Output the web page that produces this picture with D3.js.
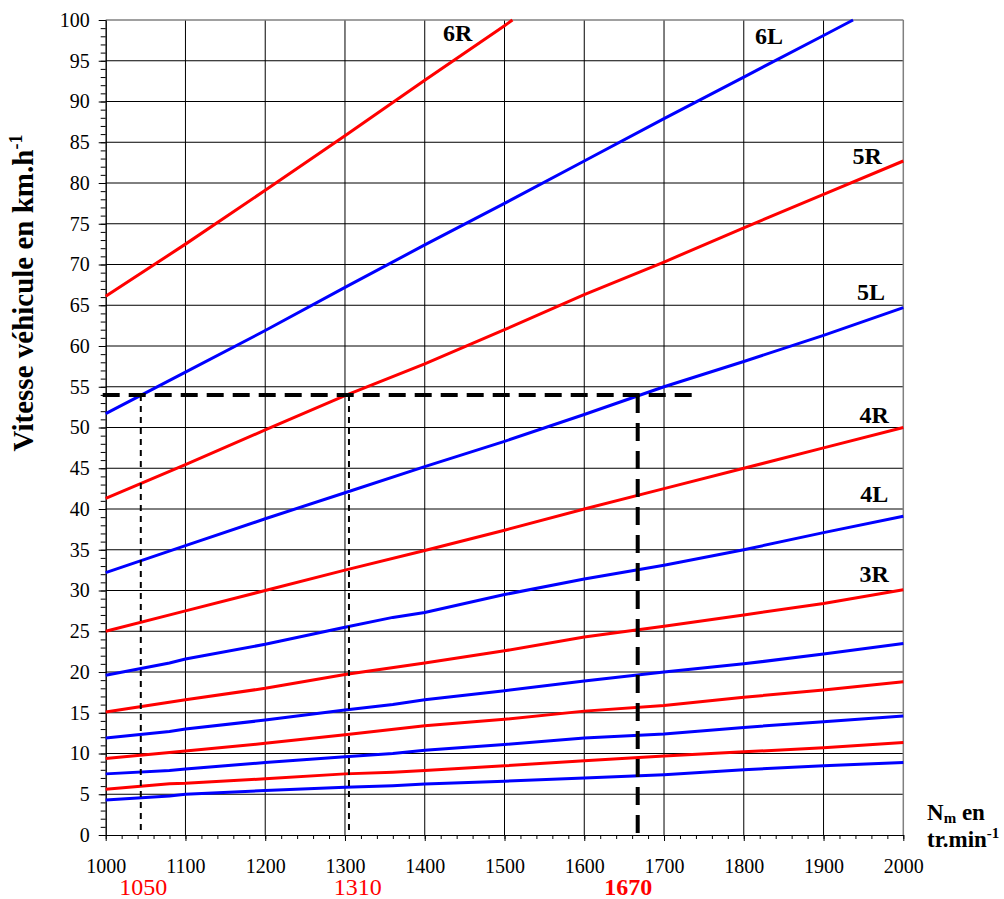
<html>
<head>
<meta charset="utf-8">
<script src="https://d3js.org/d3.v7.min.js"></script>
<style>
body { margin: 0; background: #fff; }
text { font-family: "Liberation Serif", "Times New Roman", serif; }
.curve { fill: none; stroke-width: 3; }
.grid line { stroke: #000; stroke-width: 1; }
</style>
</head>
<body>
<svg width="1004" height="899"></svg>
<script>
// engine speed (tr/min) at which each curve was read
const rpmFull = [1000, 1080, 1100, 1200, 1300, 1360, 1400, 1500, 1600, 1700, 1800, 1900, 2000];
const rpmStd  = [1000, 1100, 1200, 1300, 1400, 1500, 1600, 1700, 1800, 1900, 2000];

// vehicle speed (km/h) for each gear, L = low range (blue), R = high range (red)
const v1L = [4.3, 4.8, 5.0, 5.45, 5.85, 6.05, 6.25, 6.6, 7.0, 7.4, 8.0, 8.5, 8.9];
const v1R = [5.6, 6.3, 6.35, 6.9, 7.5, 7.7, 7.9, 8.5, 9.1, 9.7, 10.2, 10.7, 11.35];
const v2L = [7.5, 7.9, 8.1, 8.9, 9.6, 10.0, 10.4, 11.1, 11.9, 12.4, 13.2, 13.9, 14.6];
const v2R = [9.4, 10.3, 11.25, 12.3, 13.4, 14.2, 15.2, 15.9, 16.9, 17.8, 18.8];
const v3L = [11.9, 12.7, 13.0, 14.1, 15.35, 16.0, 16.6, 17.7, 18.9, 20.0, 21.0, 22.2, 23.5];
const v3R = [15.1, 16.6, 18.0, 19.7, 21.1, 22.6, 24.3, 25.6, 27.0, 28.4, 30.1];
const v4L = [19.6, 21.1, 21.6, 23.4, 25.5, 26.7, 27.3, 29.5, 31.4, 33.1, 35.0, 37.1, 39.1];
const v4R = [25.0, 27.5, 30.0, 32.5, 34.9, 37.4, 40.0, 42.5, 45.0, 47.5, 50.0];
const v5L = [32.2, 35.5, 38.8, 42.0, 45.2, 48.3, 51.6, 55.0, 58.1, 61.3, 64.7];
const v5R = [41.3, 45.45, 49.7, 53.9, 57.8, 62.0, 66.3, 70.3, 74.5, 78.6, 82.7];
const rpm6L = [1000, 1100, 1200, 1300, 1400, 1500, 1600, 1700, 1800, 1900, 1937];
const v6L = [51.7, 56.8, 61.9, 67.2, 72.4, 77.5, 82.7, 87.9, 93.0, 98.1, 100];
const rpm6R = [1000, 1100, 1200, 1300, 1400, 1500, 1510];
const v6R = [66.1, 72.5, 79.1, 85.8, 92.6, 99.3, 100];

// reading example: 54 km/h reached in 6L, 5R and 5L
const refSpeed = 54;
const refRpm = [1044, 1305, 1667];
const refText = ["1050", "1310", "1670"];
const refEnd = 1740;

const xTicks = d3.range(1000, 2001, 100);
const yTicks = d3.range(0, 101, 5);

const series = [
  {name: "1L", rpm: rpmFull, v: v1L, color: "#0000ff"},
  {name: "1R", rpm: rpmFull, v: v1R, color: "#ff0000"},
  {name: "2L", rpm: rpmFull, v: v2L, color: "#0000ff"},
  {name: "2R", rpm: rpmStd,  v: v2R, color: "#ff0000"},
  {name: "3L", rpm: rpmFull, v: v3L, color: "#0000ff"},
  {name: "3R", rpm: rpmStd,  v: v3R, color: "#ff0000"},
  {name: "4L", rpm: rpmFull, v: v4L, color: "#0000ff"},
  {name: "4R", rpm: rpmStd,  v: v4R, color: "#ff0000"},
  {name: "5L", rpm: rpmStd,  v: v5L, color: "#0000ff"},
  {name: "5R", rpm: rpmStd,  v: v5R, color: "#ff0000"},
  {name: "6L", rpm: rpm6L,   v: v6L, color: "#0000ff"},
  {name: "6R", rpm: rpm6R,   v: v6R, color: "#ff0000"}
];

// where the gear names sit (data units) and anchor
const labelPos = {
  "6R": [1423, 97.4, "start"], "6L": [1814, 97.0, "start"],
  "5R": [1973, 82.3, "end"], "5L": [1977, 65.6, "end"],
  "4R": [1982, 50.6, "end"], "4L": [1981, 40.8, "end"],
  "3R": [1982, 31.0, "end"]
};
const refLabelX = [1047, 1316, 1655];

const svg = d3.select("svg");
const x = d3.scaleLinear().domain([1000, 2000]).range([105.7, 903.3]);
const y = d3.scaleLinear().domain([0, 100]).range([835, 20]);

// grid
const grid = svg.append("g").attr("class", "grid");
grid.selectAll(".h").data(yTicks.filter(d => d > 0 && d < 100)).enter().append("line")
  .attr("x1", x(1000)).attr("x2", x(2000))
  .attr("y1", d => y(d)).attr("y2", d => y(d));
grid.selectAll(".v").data(xTicks.filter(d => d > 1000 && d < 2000)).enter().append("line")
  .attr("x1", d => x(d)).attr("x2", d => x(d))
  .attr("y1", y(0)).attr("y2", y(100));
// frame top & right
svg.append("line").attr("x1", x(1000)).attr("x2", x(2000)).attr("y1", y(100)).attr("y2", y(100))
  .attr("stroke", "#808080").attr("stroke-width", 1.5);
svg.append("line").attr("x1", x(2000)).attr("x2", x(2000)).attr("y1", y(0)).attr("y2", y(100))
  .attr("stroke", "#808080").attr("stroke-width", 1.5);

// axes
const minorY = d3.axisLeft(y).tickValues(d3.range(0, 101, 1)).tickSize(5).tickFormat("").tickSizeOuter(0);
svg.append("g").attr("transform", "translate(" + x(1000) + ",0)").call(minorY);
const yAxis = d3.axisLeft(y).tickValues(yTicks).tickSize(7).tickPadding(9).tickSizeOuter(0)
  .tickFormat(d3.format("d"));
svg.append("g").attr("transform", "translate(" + x(1000) + ",0)").call(yAxis);

const minorX = d3.axisBottom(x).tickValues(d3.range(1000, 2001, 20)).tickSize(4).tickFormat("").tickSizeOuter(0);
svg.append("g").attr("transform", "translate(0," + y(0) + ")").call(minorX);
const xAxis = d3.axisBottom(x).tickValues(xTicks).tickSize(6).tickPadding(18).tickSizeOuter(0)
  .tickFormat(d3.format("d"));
svg.append("g").attr("transform", "translate(0," + y(0) + ")").call(xAxis);

svg.selectAll(".tick text").attr("fill", "#000")
  .style("font-family", "'Liberation Serif', serif").style("font-size", "20px");
svg.selectAll(".domain, .tick line").attr("stroke", "#000");

// curves
const line = d3.line().x(d => x(d[0])).y(d => y(d[1]));
svg.selectAll(".curve").data(series).enter().append("path")
  .attr("class", "curve")
  .attr("stroke", d => d.color)
  .attr("d", d => line(d.rpm.map((r, i) => [r, d.v[i]])));

// gear labels
Object.keys(labelPos).forEach(k => {
  const p = labelPos[k];
  svg.append("text").attr("x", x(p[0])).attr("y", y(p[1]))
    .attr("text-anchor", p[2]).attr("font-size", 24).attr("font-weight", "bold").text(k);
});

// reading lines
svg.append("line").attr("x1", x(1000) - 3).attr("x2", x(refEnd))
  .attr("y1", y(refSpeed)).attr("y2", y(refSpeed))
  .attr("stroke", "#000").attr("stroke-width", 4).attr("stroke-dasharray", "17,9");
refRpm.forEach((r, i) => {
  const thick = i === 2;
  svg.append("line").attr("x1", x(r)).attr("x2", x(r))
    .attr("y1", y(refSpeed)).attr("y2", y(0))
    .attr("stroke", "#000")
    .attr("stroke-width", thick ? 4 : 2)
    .attr("stroke-dasharray", thick ? "18,10" : "6,5");
  svg.append("text").attr("x", x(refLabelX[i])).attr("y", 895)
    .attr("text-anchor", "middle").attr("font-size", 24).attr("fill", "#ff0000")
    .attr("font-weight", thick ? "bold" : "normal").text(refText[i]);
});

// axis titles
const yt = svg.append("text").attr("transform", "translate(33,293) rotate(-90)")
  .attr("text-anchor", "middle").attr("font-size", 29).attr("font-weight", "bold");
yt.append("tspan").text("Vitesse véhicule en km.h");
yt.append("tspan").attr("font-size", 18).attr("dy", -11).text("-1");

const xt = svg.append("text").attr("x", 927).attr("y", 820).attr("font-size", 23).attr("font-weight", "bold");
xt.append("tspan").text("N");
xt.append("tspan").attr("font-size", 15).attr("dy", 3).text("m");
xt.append("tspan").attr("dy", -3).text(" en");
const xt2 = svg.append("text").attr("x", 927).attr("y", 847).attr("font-size", 23).attr("font-weight", "bold");
xt2.append("tspan").text("tr.min");
xt2.append("tspan").attr("font-size", 15).attr("dy", -9).text("-1");
</script>
</body>
</html>
